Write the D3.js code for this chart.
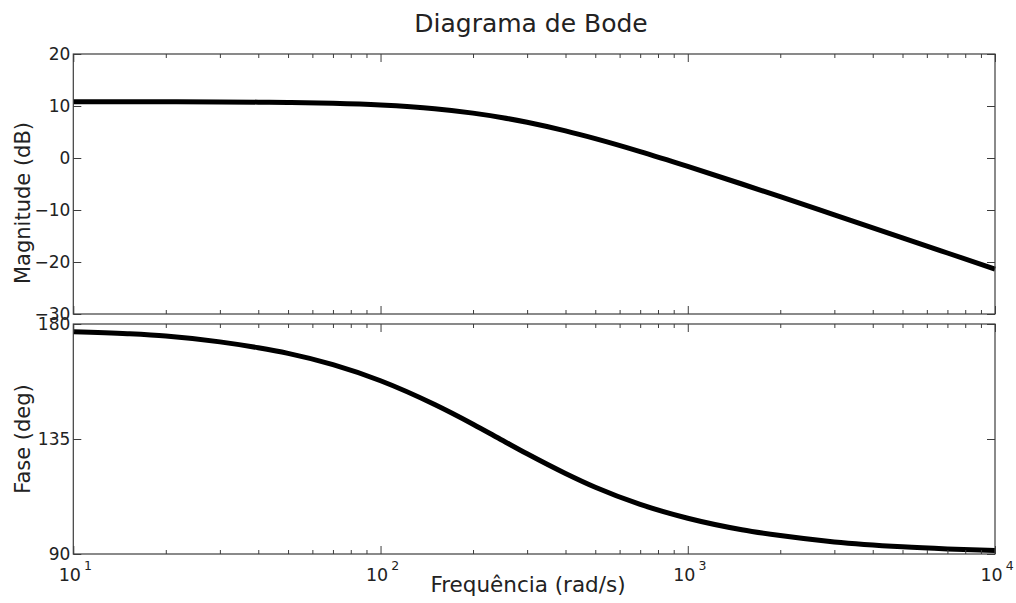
<!DOCTYPE html>
<html>
<head>
<meta charset="utf-8">
<script src="https://cdn.jsdelivr.net/npm/d3@7"></script>
<style>
  html, body { margin: 0; padding: 0; background: #fff; }
  svg { display: block; font-family: "DejaVu Sans", sans-serif; }
  .tick text { fill: #222; }
</style>
</head>
<body>
<svg id="chart" width="1016" height="603"></svg>
<script>
// Frequency response samples (rad/s), magnitude (dB) and phase (deg)
const freq     = [10, 15, 20, 30, 40, 50, 70, 100, 150, 200, 250, 300, 400, 500, 700, 1000, 1500, 2000, 3000, 5000, 7000, 10000];
const magDb    = [10.84, 10.83, 10.82, 10.79, 10.74, 10.67, 10.51, 10.18, 9.47, 8.63, 7.75, 6.87, 5.21, 3.72, 1.23, -1.62, -5.0, -7.45, -10.94, -15.35, -18.27, -21.37];
const phaseDeg = [177.0, 176.2, 175.3, 173.0, 170.7, 168.5, 164.1, 157.8, 148.5, 140.8, 134.4, 129.2, 121.5, 116.1, 109.4, 104.0, 99.5, 97.2, 94.7, 92.8, 92.0, 91.4];

// Axis ticks
const magTicks   = [-30, -20, -10, 0, 10, 20];
const phaseTicks = [90, 135, 180];
const decadeTicks = [10, 100, 1000, 10000];
const decadeExp   = ["1", "2", "3", "4"];

const titleText = "Diagrama de Bode";
const magLabel = "Magnitude (dB)";
const phaseLabel = "Fase (deg)";
const freqLabel = "Frequência (rad/s)";

const svg = d3.select("#chart");
const frameColor = "#3c3c3c";

const left = 73.3, right = 995;
const magBox = { top: 54, bottom: 314 };
const phaseBox = { top: 324, bottom: 554 };

const x = d3.scaleLog().domain([10, 10000]).range([left, right]);
const yMag = d3.scaleLinear().domain([-30, 20]).range([magBox.bottom, magBox.top]);
const yPhase = d3.scaleLinear().domain([90, 180]).range([phaseBox.bottom, phaseBox.top]);

// minor ticks 2..9 in each decade
const minorTicks = [];
[10, 100, 1000].forEach(d => { for (let k = 2; k <= 9; k++) minorTicks.push(d * k); });

const minusFmt = v => (v < 0 ? "\u2212" + Math.abs(v) : String(v));

function panel(box, y, yTicks, series, showX) {
  const g = svg.append("g");
  const h = box.bottom - box.top;

  // curve
  const line = d3.line()
    .x((d, i) => x(freq[i]))
    .y(d => y(d))
    .curve(d3.curveMonotoneX);
  g.append("path")
    .datum(series)
    .attr("d", line)
    .attr("fill", "none")
    .attr("stroke", "#000")
    .attr("stroke-width", 5)
    .attr("stroke-linejoin", "round");

  // left axis with labels, ticks pointing inward
  const yl = g.append("g")
    .attr("transform", `translate(${left},0)`)
    .call(d3.axisLeft(y).tickValues(yTicks).tickSize(-8).tickPadding(3).tickFormat(minusFmt));
  yl.selectAll("text").attr("font-size", 17).attr("font-family", "DejaVu Sans");

  // right axis ticks only
  g.append("g")
    .attr("transform", `translate(${right},0)`)
    .call(d3.axisRight(y).tickValues(yTicks).tickSize(-8).tickFormat(""));

  // bottom and top x ticks (major + minor)
  g.append("g")
    .attr("transform", `translate(0,${box.bottom})`)
    .call(d3.axisBottom(x).tickValues(decadeTicks).tickSize(-8).tickFormat(""));
  g.append("g")
    .attr("transform", `translate(0,${box.bottom})`)
    .call(d3.axisBottom(x).tickValues(minorTicks).tickSize(-4).tickFormat(""));
  g.append("g")
    .attr("transform", `translate(0,${box.top})`)
    .call(d3.axisTop(x).tickValues(decadeTicks).tickSize(-8).tickFormat(""));
  g.append("g")
    .attr("transform", `translate(0,${box.top})`)
    .call(d3.axisTop(x).tickValues(minorTicks).tickSize(-4).tickFormat(""));

  g.selectAll(".domain").remove();
  g.selectAll(".tick line").attr("stroke", frameColor).attr("stroke-width", 1);

  // frame
  g.append("rect")
    .attr("x", left).attr("y", box.top)
    .attr("width", right - left).attr("height", h)
    .attr("fill", "none")
    .attr("stroke", frameColor)
    .attr("stroke-width", 1.2);

  if (showX) {
    const lbl = g.append("g").attr("transform", `translate(0,${box.bottom})`);
    decadeTicks.forEach((v, i) => {
      const t = lbl.append("text")
        .attr("x", x(v) + 2)
        .attr("y", 27)
        .attr("text-anchor", "middle")
        .attr("fill", "#222")
        .attr("font-size", 17.5);
      t.append("tspan").text("10");
      t.append("tspan").attr("dx", 3).attr("dy", -11).attr("font-size", 12.5).text(decadeExp[i]);
    });
  }
  return g;
}

panel(magBox, yMag, magTicks, magDb, false);
panel(phaseBox, yPhase, phaseTicks, phaseDeg, true);

// titles and axis labels
svg.append("text")
  .attr("x", 531).attr("y", 32)
  .attr("text-anchor", "middle")
  .attr("font-size", 25)
  .attr("fill", "#222")
  .text(titleText);

svg.append("text")
  .attr("transform", "translate(30,203) rotate(-90)")
  .attr("text-anchor", "middle")
  .attr("font-size", 21)
  .attr("fill", "#222")
  .text(magLabel);

svg.append("text")
  .attr("transform", `translate(30,${(phaseBox.top + phaseBox.bottom) / 2}) rotate(-90)`)
  .attr("text-anchor", "middle")
  .attr("font-size", 21)
  .attr("fill", "#222")
  .text(phaseLabel);

svg.append("text")
  .attr("x", 528).attr("y", 592)
  .attr("text-anchor", "middle")
  .attr("font-size", 21.5)
  .attr("fill", "#222")
  .text(freqLabel);
</script>
</body>
</html>
